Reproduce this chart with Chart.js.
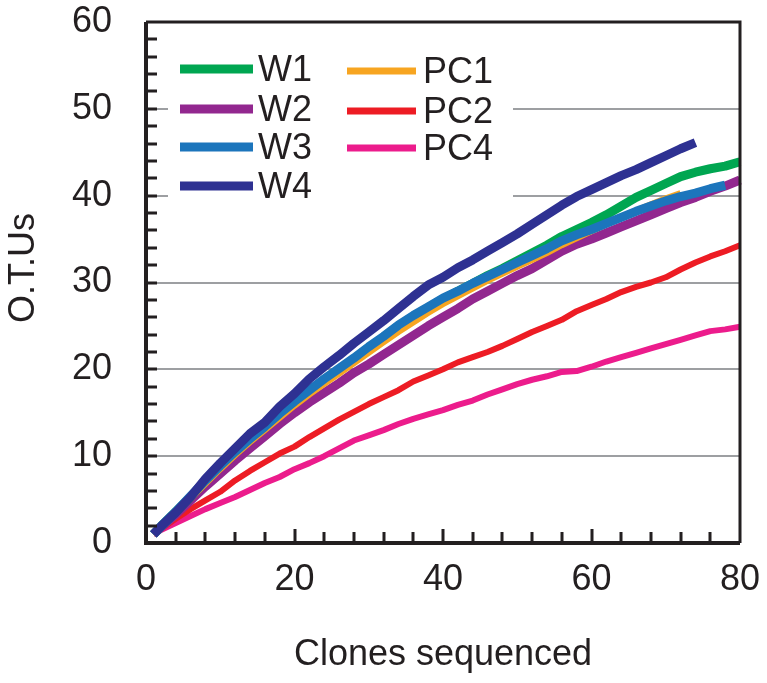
<!DOCTYPE html>
<html>
<head>
<meta charset="utf-8">
<script src="https://cdn.jsdelivr.net/npm/chart.js@4.4.1/dist/chart.umd.min.js"></script>
<style>
  html, body { margin: 0; padding: 0; background: #fff; }
  #wrap { width: 767px; height: 683px; }
</style>
</head>
<body>
<div id="wrap"><canvas id="chart" width="767" height="683"></canvas></div>
<script>
// clones sequenced (x)
const clones = [1, 2, 4, 6, 8, 10, 12, 14, 16, 18, 20, 22, 24, 26, 28, 30, 32, 34, 36, 38, 40,
    42, 44, 46, 48, 50, 52, 54, 56, 58, 60, 62, 64, 66, 68, 70, 72, 74, 76, 78, 80];

// O.T.Us per library
const w1 = [1.0, 1.9, 3.6, 5.3, 7.1, 8.8, 10.4, 11.9, 13.3, 14.8, 16.2, 17.5, 18.8, 20.0, 21.2, 22.5, 23.7, 25.0, 26.1, 27.1, 28.1,
    29.0, 29.9, 30.8, 31.6, 32.5, 33.4, 34.3, 35.3, 36.1, 36.9, 37.8, 38.8, 39.8, 40.6, 41.4, 42.2, 42.7, 43.1, 43.4, 43.9];
const w2 = [1.0, 1.8, 3.3, 4.9, 6.5, 8.0, 9.5, 10.9, 12.3, 13.7, 15.0, 16.2, 17.3, 18.4, 19.6, 20.6, 21.7, 22.8, 23.9, 25.0, 26.0,
    27.0, 28.1, 29.0, 29.9, 30.8, 31.6, 32.6, 33.6, 34.4, 35.0, 35.7, 36.4, 37.1, 37.8, 38.5, 39.2, 39.8, 40.5, 41.1, 41.8];
const w3 = [1.0, 1.9, 3.6, 5.4, 7.2, 8.9, 10.5, 12.0, 13.4, 14.9, 16.3, 17.6, 18.9, 20.1, 21.3, 22.6, 23.8, 25.1, 26.2, 27.2, 28.2,
    29.0, 29.9, 30.7, 31.5, 32.3, 33.1, 33.9, 34.8, 35.5, 36.1, 36.8, 37.5, 38.2, 38.8, 39.4, 39.9, 40.3, 40.8, 41.2];
const w4 = [1.0, 1.9, 3.5, 5.3, 7.4, 9.2, 10.9, 12.6, 13.9, 15.7, 17.2, 18.9, 20.3, 21.6, 23.0, 24.3, 25.6, 27.0, 28.4, 29.7, 30.6,
    31.7, 32.6, 33.6, 34.6, 35.6, 36.7, 37.8, 38.9, 39.9, 40.7, 41.5, 42.3, 43.0, 43.8, 44.6, 45.4, 46.1];
const pc1 = [1.0, 1.8, 3.4, 5.1, 6.8, 8.5, 10.1, 11.6, 13.0, 14.4, 15.8, 17.1, 18.3, 19.5, 20.7, 21.9, 23.1, 24.3, 25.4, 26.5, 27.5,
    28.4, 29.3, 30.2, 31.0, 31.8, 32.6, 33.4, 34.3, 35.1, 35.9, 36.7, 37.4, 38.3, 39.0, 39.7, 40.3];
const pc2 = [1.0, 1.6, 2.8, 3.9, 4.9, 5.9, 7.2, 8.3, 9.3, 10.3, 11.1, 12.2, 13.2, 14.2, 15.1, 16.0, 16.8, 17.6, 18.6, 19.3, 20.0,
    20.8, 21.4, 22.0, 22.7, 23.5, 24.3, 25.0, 25.7, 26.7, 27.4, 28.1, 28.9, 29.5, 30.0, 30.6, 31.5, 32.3, 33.0, 33.6, 34.3];
const pc4 = [1.0, 1.5, 2.3, 3.1, 3.9, 4.6, 5.3, 6.1, 6.9, 7.6, 8.5, 9.2, 10.0, 10.9, 11.8, 12.4, 13.0, 13.7, 14.3, 14.8, 15.3,
    15.9, 16.4, 17.1, 17.7, 18.3, 18.8, 19.2, 19.7, 19.8, 20.3, 20.9, 21.4, 21.9, 22.4, 22.9, 23.4, 23.9, 24.4, 24.6, 24.9];

const xTickLabels = [0, 20, 40, 60, 80];
const yTickLabels = [0, 10, 20, 30, 40, 50, 60];

const FONT = '"Liberation Sans", Arial, Helvetica, sans-serif';
const INK = '#231f20';

const colors = {
    W1: '#00a651', W2: '#92278f', W3: '#1c75bc', W4: '#2e3192',
    PC1: '#f7a521', PC2: '#ed1c24', PC4: '#ec1c8c'
};

const toPoints = ys => ys.map((y, i) => ({ x: clones[i], y: y }));

function line(label, ys, width) {
    return {
        label: label,
        data: toPoints(ys),
        borderColor: colors[label],
        backgroundColor: colors[label],
        borderWidth: width,
        pointRadius: 0,
        tension: 0,
        showLine: true,
        borderJoinStyle: 'round',
        borderCapStyle: 'butt',
        clip: 8
    };
}

// first in the list is drawn on top
const datasets = [
    line('W4', w4, 9),
    line('W3', w3, 9),
    line('PC1', pc1, 6),
    line('W1', w1, 9),
    line('W2', w2, 9),
    line('PC2', pc2, 6),
    line('PC4', pc4, 6)
];

// no extra room for overhanging labels, the area is set by hand
const noPad = s => { s.paddingTop = 0; s.paddingBottom = 0; s.paddingLeft = 0; s.paddingRight = 0; };

// legend, frame, inward ticks, y title
const framePlugin = {
    id: 'frame',
    beforeDatasetsDraw(chart) {
        const c = chart.ctx;
        c.save();
        c.fillStyle = '#fff';
        c.fillRect(168, 38, 345, 168);
        c.restore();
    },
    afterDatasetsDraw(chart) {
        const c = chart.ctx;
        const a = chart.chartArea;
        const xs = chart.scales.x, ys = chart.scales.y;
        c.save();
        c.strokeStyle = INK;
        c.lineCap = 'butt';

        // inward ticks
        c.lineWidth = 3;
        c.beginPath();
        for (let v = 2; v < 60; v += 2) {
            const py = Math.round(ys.getPixelForValue(v));
            c.moveTo(a.left, py);
            c.lineTo(a.left + 11, py);
        }
        for (let v = 4; v < 80; v += 4) {
            const px = Math.round(xs.getPixelForValue(v));
            c.moveTo(px, a.bottom);
            c.lineTo(px, a.bottom - (v % 20 === 0 ? 14 : 11));
        }
        c.stroke();

        // frame
        c.lineWidth = 4;
        c.beginPath();
        c.moveTo(a.left, a.top);
        c.lineTo(a.left, a.bottom);
        c.lineTo(a.right, a.bottom);
        c.stroke();
        c.lineWidth = 3;
        c.beginPath();
        c.moveTo(a.left, a.top);
        c.lineTo(a.right, a.top);
        c.lineTo(a.right, a.bottom);
        c.stroke();

        // legend
        const cols = [
            { names: ['W1', 'W2', 'W3', 'W4'], x0: 180, x1: 253, tx: 258, ys: [69, 109, 147, 186], w: 9 },
            { names: ['PC1', 'PC2', 'PC4'], x0: 347, x1: 416, tx: 423, ys: [71, 111, 148], w: 7 }
        ];
        c.font = '36px ' + FONT;
        c.textBaseline = 'middle';
        c.textAlign = 'left';
        cols.forEach(col => {
            col.names.forEach((n, i) => {
                c.strokeStyle = colors[n];
                c.lineWidth = col.w;
                c.beginPath();
                c.moveTo(col.x0, col.ys[i]);
                c.lineTo(col.x1, col.ys[i]);
                c.stroke();
                c.fillStyle = INK;
                c.fillText(n, col.tx, col.ys[i] + 2);
            });
        });

        // y axis title
        c.translate(24, 268);
        c.rotate(-Math.PI / 2);
        c.textAlign = 'center';
        c.fillText('O.T.Us', 0, 0);
        c.restore();
    }
};

new Chart(document.getElementById('chart'), {
    type: 'scatter',
    data: { datasets: datasets },
    options: {
        responsive: false,
        animation: false,
        devicePixelRatio: 1,
        layout: { padding: { top: 22, right: 27, left: 0, bottom: 0 } },
        plugins: { legend: { display: false }, tooltip: { enabled: false } },
        scales: {
            x: {
                type: 'linear',
                min: 0,
                max: 80,
                afterBuildTicks: s => { s.ticks = xTickLabels.map(v => ({ value: v })); },
                afterFit: s => { s.height = 140; noPad(s); },
                ticks: { color: INK, font: { family: FONT, size: 36 }, padding: 15, maxRotation: 0 },
                grid: { display: false, drawTicks: false },
                border: { display: false },
                title: {
                    display: true,
                    text: 'Clones sequenced',
                    color: INK,
                    font: { family: FONT, size: 36 },
                    padding: { top: 0, bottom: 6 }
                }
            },
            y: {
                type: 'linear',
                min: 0,
                max: 60,
                afterBuildTicks: s => { s.ticks = yTickLabels.map(v => ({ value: v })); },
                afterFit: s => { s.width = 146; noPad(s); },
                ticks: { color: INK, font: { family: FONT, size: 36 }, padding: 34 },
                grid: {
                    drawTicks: false,
                    lineWidth: 2,
                    color: ctx => (ctx.tick && ctx.tick.value > 0 && ctx.tick.value < 60) ? '#9d9fa2' : 'rgba(0,0,0,0)'
                },
                border: { display: false },
                title: { display: false }
            }
        }
    },
    plugins: [framePlugin]
});
</script>
</body>
</html>
